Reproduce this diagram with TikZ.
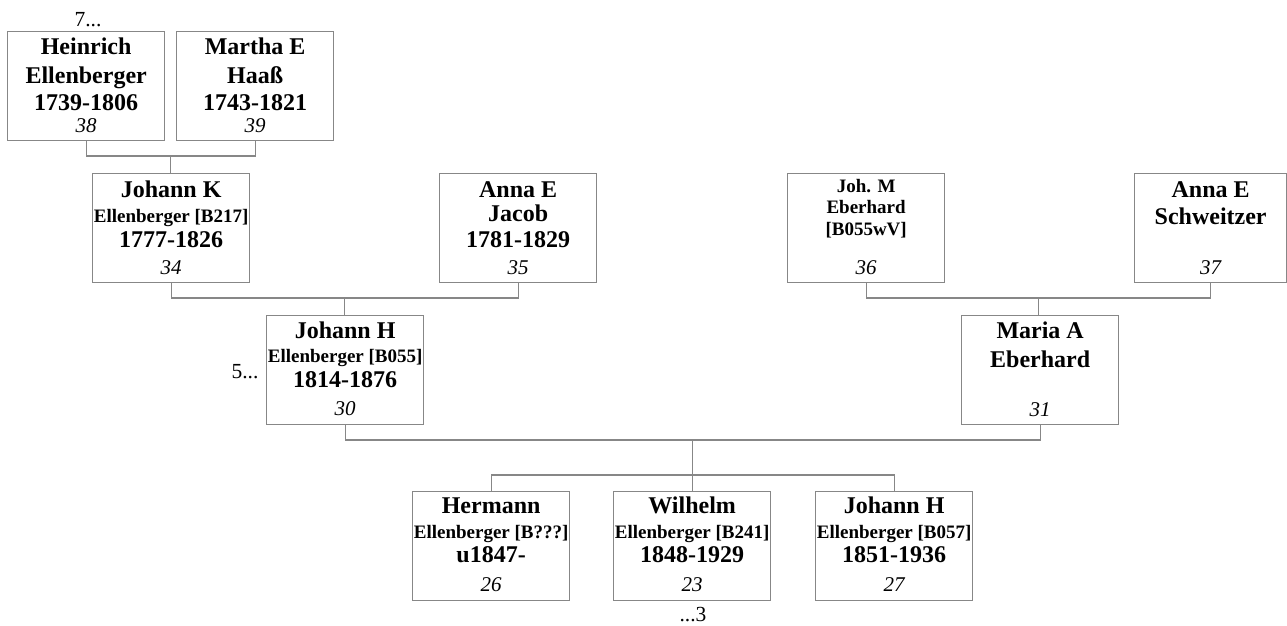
\documentclass[tikz,border=0pt]{standalone}
\usepackage{fontspec}
\setmainfont{Liberation Serif}
\usetikzlibrary{calc}
\definecolor{linegray}{RGB}{135,135,135}
\newcommand\ptxt[4]{\node[#1,anchor=base] at ([yshift=-#3pt]#2.north) {#4};}
\begin{document}
\begin{tikzpicture}[x=1pt,y=-1pt,
  pbox/.style={draw=linegray, line width=1.3pt, minimum width=157pt, minimum height=109pt, inner sep=0pt, anchor=north west},
  conn/.style={draw=linegray, line width=1.2pt},
  big/.style={inner sep=0pt, font=\fontsize{24}{28}\selectfont\bfseries},
  small/.style={inner sep=0pt, font=\fontsize{19}{20}\selectfont\bfseries},
  num/.style={inner sep=0pt, font=\fontsize{21}{22}\selectfont\itshape},
  cont/.style={inner sep=0pt, font=\fontsize{21.5}{22}\selectfont, anchor=base}]
\useasboundingbox (0,0) rectangle (1287,626);
% boxes
\node[pbox] (p38) at (7,31) {};
\node[pbox] (p39) at (176,31) {};
\node[pbox] (p34) at (92,173) {};
\node[pbox] (p35) at (439,173) {};
\node[pbox] (p36) at (787,173) {};
\node[pbox, minimum width=152pt] (p37) at (1134,173) {};
\node[pbox] (p30) at (266,315) {};
\node[pbox] (p31) at (961,315) {};
\node[pbox] (p26) at (412,491) {};
\node[pbox] (p23) at (613,491) {};
\node[pbox] (p27) at (815,491) {};
% texts
\ptxt{big}{p38}{24}{Heinrich}
\ptxt{big}{p38}{52}{Ellenberger}
\ptxt{big}{p38}{79}{1739-1806}
\ptxt{num}{p38}{101}{38}
\ptxt{big}{p39}{24}{Martha E}
\ptxt{big}{p39}{52}{Haaß}
\ptxt{big}{p39}{79}{1743-1821}
\ptxt{num}{p39}{101}{39}
\ptxt{big}{p34}{24}{Johann K}
\ptxt{small}{p34}{49}{Ellenberger [B217]}
\ptxt{big}{p34}{74}{1777-1826}
\ptxt{num}{p34}{101}{34}
\ptxt{big}{p35}{24}{Anna E}
\ptxt{big}{p35}{48}{Jacob}
\ptxt{big}{p35}{74}{1781-1829}
\ptxt{num}{p35}{101}{35}
\ptxt{small}{p36}{19}{Joh. M}
\ptxt{small}{p36}{40}{Eberhard}
\ptxt{small}{p36}{62}{[B055wV]}
\ptxt{num}{p36}{101}{36}
\ptxt{big}{p37}{24}{Anna E}
\ptxt{big}{p37}{51}{Schweitzer}
\ptxt{num}{p37}{101}{37}
\ptxt{big}{p30}{23}{Johann H}
\ptxt{small}{p30}{47}{Ellenberger [B055]}
\ptxt{big}{p30}{72}{1814-1876}
\ptxt{num}{p30}{100}{30}
\ptxt{big}{p31}{23}{Maria A}
\ptxt{big}{p31}{52}{Eberhard}
\ptxt{num}{p31}{101}{31}
\ptxt{big}{p26}{22}{Hermann}
\ptxt{small}{p26}{47}{Ellenberger [B???]}
\ptxt{big}{p26}{71}{u1847-}
\ptxt{num}{p26}{100}{26}
\ptxt{big}{p23}{22}{Wilhelm}
\ptxt{small}{p23}{47}{Ellenberger [B241]}
\ptxt{big}{p23}{71}{1848-1929}
\ptxt{num}{p23}{100}{23}
\ptxt{big}{p27}{22}{Johann H}
\ptxt{small}{p27}{47}{Ellenberger [B057]}
\ptxt{big}{p27}{71}{1851-1936}
\ptxt{num}{p27}{100}{27}
% continuation labels
\node[cont] (c7) at (88,27) {7...};
\node[cont] (c5) at (245,378) {5...};
\node[cont] (c3) at (693,621) {...3};
% connectors
\coordinate (m1) at ($(p38.south)!0.5!(p39.south)$);
\draw[conn] (p38.south) -- (p38.south |- 0,156) -| (p39.south);
\draw[conn] (m1 |- 0,156) -- (m1 |- p34.north);
\coordinate (m2) at ($(p34.south)!0.5!(p35.south)$);
\draw[conn] (p34.south) -- (p34.south |- 0,298) -| (p35.south);
\draw[conn] (m2 |- 0,298) -- (m2 |- p30.north);
\coordinate (m3) at ($(p36.south)!0.5!(p37.south)$);
\draw[conn] (p36.south) -- (p36.south |- 0,298) -| (p37.south);
\draw[conn] (m3 |- 0,298) -- (m3 |- p31.north);
\coordinate (m4) at ($(p30.south)!0.5!(p31.south)$);
\draw[conn] (p30.south) -- (p30.south |- 0,440) -| (p31.south);
\draw[conn] (m4 |- 0,440) -- (m4 |- 0,475);
\draw[conn] (p26.north) -- (p26.north |- 0,475) -| (p27.north);
\draw[conn] (p23.north) -- (p23.north |- 0,475);
\end{tikzpicture}
\end{document}
